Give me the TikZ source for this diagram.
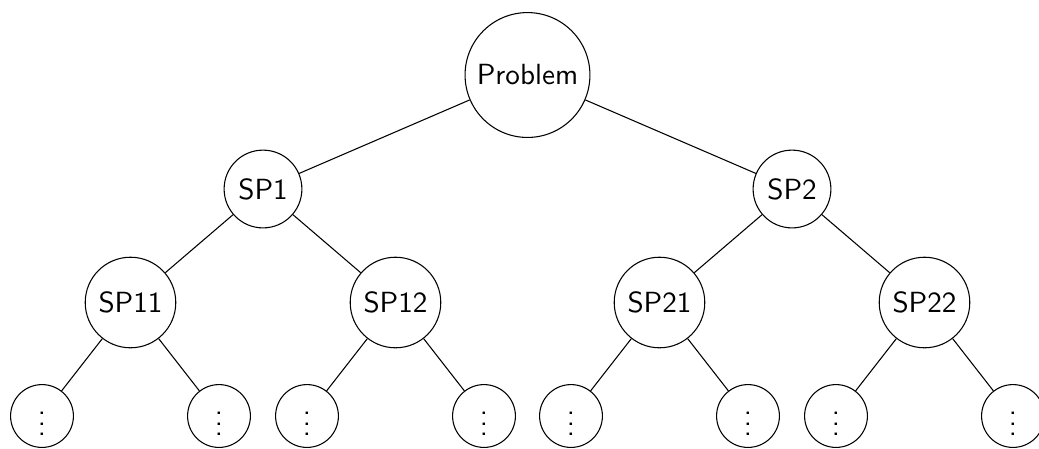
\documentclass[tikz,border=0pt]{standalone}
\begin{document}
\begin{tikzpicture}[x=0.37566pt,y=-0.37566pt,
  every node/.style={font=\fontsize{10.95}{13.6}\sffamily},
  nd/.style={draw,circle,line width=0.4pt},
  link/.style={line width=0.4pt}]
\useasboundingbox (0,0) rectangle (1039,448);
\node[nd] (root) at (527.5,75) {Problem};
\node[nd] (sp1) at (263,189) {SP1};
\node[nd] (sp2) at (792,189) {SP2};
\node[nd] (sp11) at (130.5,302.5) {SP11};
\node[nd] (sp12) at (395.5,302.5) {SP12};
\node[nd] (sp21) at (659.5,302.5) {SP21};
\node[nd] (sp22) at (924.5,302.5) {SP22};
\node[nd] (l1) at (42,416) {\vdots};
\node[nd] (l2) at (219,416) {\vdots};
\node[nd] (l3) at (307,416) {\vdots};
\node[nd] (l4) at (484,416) {\vdots};
\node[nd] (l5) at (571,416) {\vdots};
\node[nd] (l6) at (748,416) {\vdots};
\node[nd] (l7) at (836,416) {\vdots};
\node[nd] (l8) at (1013,416) {\vdots};
\draw[link] (root) -- (sp1);
\draw[link] (root) -- (sp2);
\draw[link] (sp1) -- (sp11);
\draw[link] (sp1) -- (sp12);
\draw[link] (sp2) -- (sp21);
\draw[link] (sp2) -- (sp22);
\draw[link] (sp11) -- (l1);
\draw[link] (sp11) -- (l2);
\draw[link] (sp12) -- (l3);
\draw[link] (sp12) -- (l4);
\draw[link] (sp21) -- (l5);
\draw[link] (sp21) -- (l6);
\draw[link] (sp22) -- (l7);
\draw[link] (sp22) -- (l8);
\end{tikzpicture}
\end{document}
